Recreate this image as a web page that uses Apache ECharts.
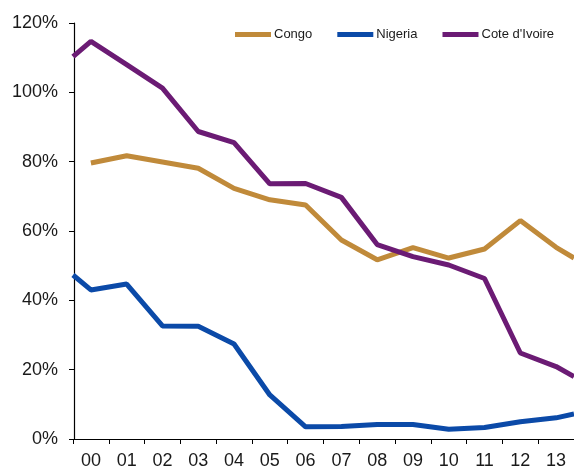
<!DOCTYPE html>
<html>
<head>
<meta charset="utf-8">
<script src="https://cdn.jsdelivr.net/npm/echarts@6/dist/echarts.min.js"></script>
<style>
html,body{margin:0;padding:0;background:#fff;}
#chart{width:574px;height:471px;}
</style>
</head>
<body>
<div id="chart"></div>
<script>
// Year labels (categories)
var years = ['00','01','02','03','04','05','06','07','08','09','10','11','12','13'];
// Y-axis ticks
var yTicks = [0, 20, 40, 60, 80, 100, 120];
// Values (%) at each year (plotted at mid-year)
var congo   = [79.6, 81.7, 79.9, 78.1, 72.3, 69.0, 67.5, 57.4, 51.7, 55.2, 52.2, 54.8, 63.0, 55.3];
var nigeria = [43.0, 44.7, 32.6, 32.5, 27.4, 12.7, 3.5, 3.6, 4.2, 4.2, 2.8, 3.3, 5.0, 6.1];
var cote    = [114.7, 108.0, 101.2, 88.7, 85.5, 73.6, 73.7, 69.7, 56.1, 52.6, 50.2, 46.3, 24.8, 20.9];
// Values at the edges of the plotted period (start of 2000 / end of 2013)
var nigeriaStart = 47.3, coteStart = 110.3;
var congoEnd = 52.2, nigeriaEnd = 7.2, coteEnd = 18.0;

// time in years since start of 2000
function build(vals, start, end) {
  var d = [];
  if (start !== null) d.push([0, start]);
  vals.forEach(function (v, i) { d.push([i + 0.5, v]); });
  if (end !== null) d.push([years.length, end]);
  return d;
}

var textColor = '#1a1a1a';
var chart = echarts.init(document.getElementById('chart'));
chart.setOption({
  animation: false,
  backgroundColor: '#fff',
  grid: { left: 73, right: -5, top: 23, bottom: 32, containLabel: false },
  legend: {
    left: 230, top: 23,
    itemWidth: 36, itemHeight: 5, itemGap: 25,
    icon: 'rect',
    textStyle: { fontFamily: 'Liberation Sans, Arial, sans-serif', fontSize: 13, color: textColor, padding: [0, 0, 0, -2] },
    data: ['Congo', 'Nigeria', "Cote d'Ivoire"]
  },
  xAxis: [{
    type: 'category',
    data: years,
    boundaryGap: true,
    position: 'bottom',
    axisLine: { show: true, onZero: false, lineStyle: { color: '#000', width: 1 } },
    axisTick: { show: true, length: 5, inside: false, lineStyle: { color: '#000' } },
    axisLabel: { fontFamily: 'Liberation Sans, Arial, sans-serif', fontSize: 18, color: textColor, margin: 13 },
    splitLine: { show: false }
  }, {
    type: 'value',
    min: 0, max: years.length,
    show: false,
    splitLine: { show: false }
  }],
  yAxis: [{
    type: 'value',
    position: 'left',
    offset: -1,
    min: yTicks[0], max: yTicks[yTicks.length - 1], interval: 20,
    axisLine: { show: true, onZero: false, lineStyle: { color: '#000', width: 1.2 } },
    axisTick: { show: true, length: 5, lineStyle: { color: '#000' } },
    axisLabel: { formatter: '{value}%', fontFamily: 'Liberation Sans, Arial, sans-serif', fontSize: 18, color: textColor, margin: 16 },
    splitLine: { show: false }
  }],
  series: [{
    name: 'Congo', type: 'line', xAxisIndex: 1,
    data: build(congo, null, congoEnd),
    showSymbol: false, symbol: 'none',
    lineStyle: { color: '#C08A3A', width: 5 }, itemStyle: { color: '#C08A3A' }
  }, {
    name: 'Nigeria', type: 'line', xAxisIndex: 1,
    data: build(nigeria, nigeriaStart, nigeriaEnd),
    showSymbol: false, symbol: 'none',
    lineStyle: { color: '#0B4AA8', width: 5 }, itemStyle: { color: '#0B4AA8' }
  }, {
    name: "Cote d'Ivoire", type: 'line', xAxisIndex: 1,
    data: build(cote, coteStart, coteEnd),
    showSymbol: false, symbol: 'none',
    lineStyle: { color: '#6B1B74', width: 5 }, itemStyle: { color: '#6B1B74' }
  }]
});
</script>
</body>
</html>
